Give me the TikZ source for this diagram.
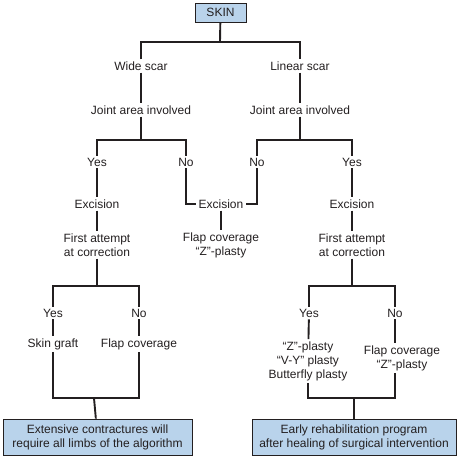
\documentclass[tikz,border=0pt]{standalone}
\usepackage{fontspec}
\setmainfont{Liberation Sans}
\usepackage{tikz}
\usetikzlibrary{positioning, calc}
\definecolor{boxfill}{HTML}{B9D3EB}
\definecolor{inkcolor}{HTML}{231F20}
\tikzset{
    tree text/.style={
        inner sep=2pt, align=center, text=inkcolor,
        font=\fontsize{12}{14}\selectfont
    },
    head box/.style={
        rectangle, draw=inkcolor, fill=boxfill, line width=0.8pt,
        minimum width=51pt, minimum height=19pt, inner sep=2pt,
        align=center, text=inkcolor,
        font=\fontsize{12}{14}\selectfont
    },
    result box/.style={
        head box, minimum height=36pt
    },
    branch/.style={
        draw=inkcolor, line width=1.9pt
    },
}

\begin{document}
\begin{tikzpicture}[x=1pt, y=-1pt]

    \useasboundingbox (0,0) rectangle (457,459);

    % ── Root ──
    \node[head box] (skin) at (220.5,12.5) {SKIN};
    \node[tree text] (wide) at (141,66) {Wide scar};
    \node[tree text] (linear) at (300,66) {Linear scar};
    \node[tree text] (jointL) at (141,110) {Joint area involved};
    \node[tree text] (jointR) at (300,110) {Joint area involved};

    \coordinate (forkTop) at (220,42);
    \draw[branch] (skin) -- (forkTop);
    \draw[branch] (wide) |- (forkTop) -| (linear);
    \draw[branch] (wide) -- (jointL);
    \draw[branch] (linear) -- (jointR);

    % ── Joint area ──
    \node[tree text] (yesA) at (97,162) {Yes};
    \node[tree text] (noA) at (186,162) {No};
    \node[tree text] (noB) at (257,162) {No};
    \node[tree text] (yesB) at (352,162) {Yes};

    \coordinate (forkL) at (141,140);
    \coordinate (forkR) at (300,140);
    \draw[branch] (jointL) -- (forkL);
    \draw[branch] (yesA) |- (forkL) -| (noA);
    \draw[branch] (jointR) -- (forkR);
    \draw[branch] (noB) |- (forkR) -| (yesB);

    % ── Excision ──
    \node[tree text] (excA) at (97,204) {Excision};
    \node[tree text] (excM) at (221,204) {Excision};
    \node[tree text] (excB) at (352,204) {Excision};
    \node[tree text] (firstA) at (97,245) {First attempt\\at correction};
    \node[tree text] (flapM) at (221,245) {Flap coverage\\``Z''-plasty};
    \node[tree text] (firstB) at (352,245) {First attempt\\at correction};

    \draw[branch] (yesA) -- (excA);
    \draw[branch] (noA) |- (excM);
    \draw[branch] (noB) |- (excM);
    \draw[branch] (yesB) -- (excB);
    \draw[branch] (excA) -- (firstA);
    \draw[branch] (excM) -- (flapM);
    \draw[branch] (excB) -- (firstB);

    % ── First attempt ──
    \node[tree text] (yesC) at (53,313) {Yes};
    \node[tree text] (noC) at (139,313) {No};
    \node[tree text] (yesD) at (309,313) {Yes};
    \node[tree text] (noD) at (395,313) {No};

    \coordinate (forkC) at (97,286);
    \coordinate (forkD) at (352,286);
    \draw[branch] (firstA) -- (forkC);
    \draw[branch] (yesC) |- (forkC) -| (noC);
    \draw[branch] (firstB) -- (forkD);
    \draw[branch] (yesD) |- (forkD) -| (noD);

    \node[tree text] (graft) at (53,344) {Skin graft};
    \node[tree text] (flapC) at (139,344) {Flap coverage};
    \node[tree text] (plasty) at (308,361) {``Z''-plasty\\``V-Y'' plasty\\Butterfly plasty};
    \node[tree text] (flapD) at (402,358) {Flap coverage\\``Z''-plasty};

    \draw[branch] (yesC) -- (graft);
    \draw[branch] (noC) -- (flapC);
    \draw[branch] (yesD) -- (plasty);
    \draw[branch] (noD) -- (noD |- flapD.north);

    % ── Outcomes ──
    \node[result box, minimum width=189pt] (sumL) at (97.5,437)
        {Extensive contractures will\\require all limbs of the algorithm};
    \node[result box, minimum width=204pt] (sumR) at (354,437)
        {Early rehabilitation program\\after healing of surgical intervention};

    \coordinate (joinL) at (94,398);
    \coordinate (joinR) at (354,398);
    \draw[branch] (graft) |- (joinL) -| (flapC);
    \draw[branch] (joinL) -- (sumL);
    \draw[branch] (plasty) |- (joinR) -| (noD |- flapD.south);
    \draw[branch] (joinR) -- (sumR);

\end{tikzpicture}
\end{document}
